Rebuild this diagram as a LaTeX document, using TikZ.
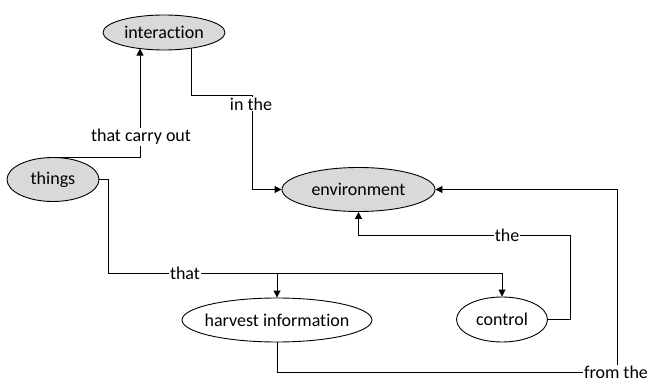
\documentclass[tikz,border=0pt]{standalone}
\usepackage{fontspec}
\setmainfont{Carlito}[Ligatures={NoCommon}]
\usetikzlibrary{shapes.geometric,arrows.meta}
\definecolor{nodegray}{HTML}{D9D9D9}
\begin{document}
\begin{tikzpicture}[x=1pt,y=-1pt,
  font=\fontsize{18}{21}\selectfont,
  ell/.style={ellipse,draw,line width=0.9pt,inner sep=0pt},
  filled/.style={fill=nodegray},
  conn/.style={line width=0.9pt},
  arr/.style={conn,-{Triangle[length=7pt,width=7pt]}},
  lbl/.style={fill=white,inner sep=1pt}]
\useasboundingbox (0,0) rectangle (651,385);
% nodes
\node[ell,filled,minimum width=122,minimum height=35,label=center:interaction] (inter) at (164,32.5) {};
\node[ell,filled,minimum width=92,minimum height=44,label=center:things] (things) at (53,179.5) {};
\node[ell,filled,minimum width=153,minimum height=44,label=center:environment] (env) at (358.5,189.5) {};
\node[ell,minimum width=190,minimum height=44,label=center:harvest information] (harvest) at (277,320) {};
\node[ell,minimum width=91,minimum height=45,label=center:control] (control) at (502,319.5) {};
% helper coordinates
\coordinate (iin) at (140,48.6);
\coordinate (iout) at (191,48.2);
\coordinate (c2) at (252,95);
\coordinate (tx) at (108,273);
\coordinate (cr) at (570,235);
\coordinate (fr) at (617,372);
% connectors
\draw[arr] (things.north) -| (iin);
\draw[arr] (iout) |- (c2) |- (env.west);
\draw[arr] (things.east) -| (tx) -- (control.north |- tx) -- (control.north);
\draw[arr] (harvest.north |- tx) -- (harvest.north);
\draw[arr] (control.east) -| (cr) -| (env.south);
\draw[arr] (harvest.south) |- (fr) |- (env.east);
% labels
\node[lbl] (l1) at (141,137) {that carry out};
\node[lbl] (l2) at (251,104) {in the};
\node[lbl] (l3) at (185,273) {that};
\node[lbl] (l4) at (507,235) {the};
\node[lbl] (l5) at (616,372) {from the};
\end{tikzpicture}
\end{document}
